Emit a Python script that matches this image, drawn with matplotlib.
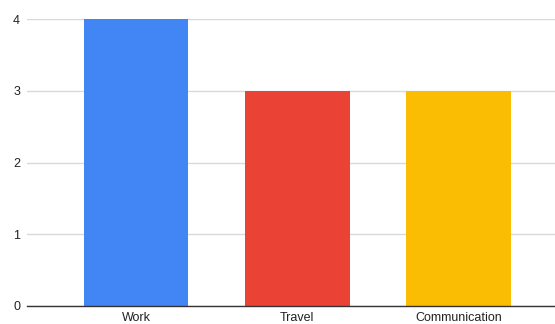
import matplotlib
matplotlib.use("Agg")
import matplotlib.pyplot as plt

categories = ["Work", "Travel", "Communication"]
values = [4, 3, 3]
colors = ["#4285f4", "#ea4335", "#fbbc04"]
y_ticks = [0, 1, 2, 3, 4]

plt.rcParams["font.family"] = ["Liberation Sans", "DejaVu Sans"]

fig = plt.figure(figsize=(5.55, 3.24), dpi=100)
ax = fig.add_axes([27 / 555, 18 / 324, 528 / 555, 287 / 324])

x = list(range(len(categories)))
ax.bar(x, values, width=0.65, color=colors, zorder=3)

ax.set_xlim(-0.677, 2.599)
ax.set_ylim(0, 4)
ax.set_yticks(y_ticks)
ax.set_yticklabels([str(t) for t in y_ticks])
ax.set_xticks(x)
ax.set_xticklabels(categories)

ax.grid(axis="y", color="#d9d9d9", linewidth=1, zorder=0)
for side in ["top", "right", "left"]:
    ax.spines[side].set_visible(False)
ax.spines["bottom"].set_color("#333333")
ax.spines["bottom"].set_linewidth(1)
ax.spines["bottom"].set_zorder(4)

ax.tick_params(axis="both", length=0, labelsize=9, colors="#222222")
ax.tick_params(axis="y", pad=5)
ax.tick_params(axis="x", pad=4.5)

fig.savefig("out.png", dpi=100)
